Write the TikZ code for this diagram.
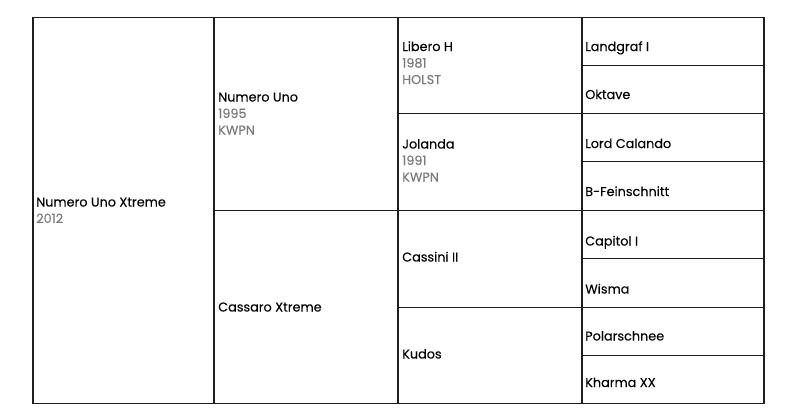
\documentclass[tikz,border=0pt]{standalone}
\usepackage{fontspec}
\setmainfont{Poppins}[FakeBold=0.15]
\definecolor{gridline}{HTML}{1E1E1E}
\definecolor{subtext}{HTML}{7A7A7A}
\tikzset{
  vline/.style={draw=gridline,line width=1.4pt},
  hline/.style={draw=gridline,line width=0.75pt},
  horse/.style={anchor=base west,inner sep=0pt,font=\fontsize{9.6}{11}\selectfont,text=black},
  sub/.style={anchor=base west,inner sep=0pt,font=\fontsize{9.6}{11}\selectfont,text=subtext}
}
\begin{document}
\begin{tikzpicture}[x=0.75pt,y=-0.75pt]
\useasboundingbox (0,0) rectangle (797,414);
% horizontal lines
\draw[hline] (32,17.5) -- (765,17.5);
\draw[hline] (32,403.5) -- (765,403.5);
\draw[hline] (213,210.5) -- (765,210.5);
\draw[hline] (397,113.5) -- (765,113.5);
\draw[hline] (397,307.5) -- (765,307.5);
\foreach \y in {65.5,161.5,258.5,355.5} \draw[hline] (581,\y) -- (765,\y);
% vertical lines
\foreach \x in {33,214,398,582,764} \draw[vline] (\x,17) -- (\x,404);
% generation 1
\node[horse] (g1) at (36,206.5) {Numero Uno Xtreme};
\node[sub] (g1y) at (36,223) {2012};
% generation 2
\node[horse] (g2a) at (218,101.5) {Numero Uno};
\node[sub] (g2ay) at (218,118) {1995};
\node[sub] (g2ab) at (218,134.5) {KWPN};
\node[horse] (g2b) at (218,311.5) {Cassaro Xtreme};
% generation 3
\node[horse] (g3a) at (402,51) {Libero H};
\node[sub] (g3ay) at (402,67.5) {1981};
\node[sub] (g3ab) at (402,84) {HOLST};
\node[horse] (g3b) at (402,148.5) {Jolanda};
\node[sub] (g3by) at (402,165) {1991};
\node[sub] (g3bb) at (402,181.5) {KWPN};
\node[horse] (g3c) at (402,261.5) {Cassini II};
\node[horse] (g3d) at (402,358.5) {Kudos};
% generation 4
\node[horse] (g4a) at (585,51) {Landgraf I};
\node[horse] (g4b) at (585,99) {Oktave};
\node[horse] (g4c) at (585,148) {Lord Calando};
\node[horse] (g4d) at (585,196) {B-Feinschnitt};
\node[horse] (g4e) at (585,245.5) {Capitol I};
\node[horse] (g4f) at (585,293.5) {Wisma};
\node[horse] (g4g) at (585,340.5) {Polarschnee};
\node[horse] (g4h) at (585,387) {Kharma XX};
\end{tikzpicture}
\end{document}
